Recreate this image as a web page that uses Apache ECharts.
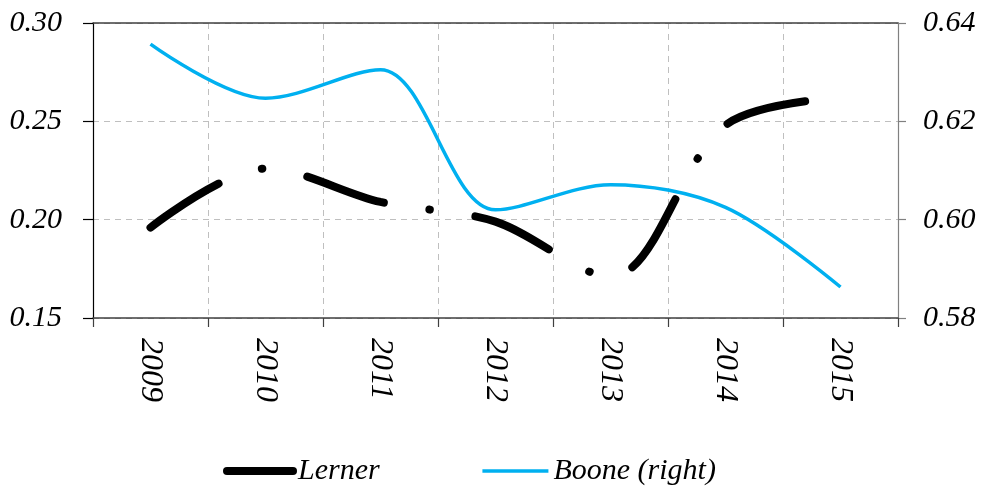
<!DOCTYPE html>
<html>
<head>
<meta charset="utf-8">
<script src="https://cdn.jsdelivr.net/npm/echarts@6/dist/echarts.min.js"></script>
<style>
html,body{margin:0;padding:0;background:#fff;}
#chart{width:985px;height:497px;}
</style>
</head>
<body>
<div id="chart"></div>
<script>
var years = ['2009','2010','2011','2012','2013','2014','2015'];
var lerner = [0.196, 0.226, 0.209, 0.199, 0.171, 0.248, 0.262];
var boone = [0.6357, 0.6247, 0.6305, 0.6020, 0.6071, 0.6025, 0.5863];
var leftTicks = {min: 0.15, max: 0.30, interval: 0.05};
var rightTicks = {min: 0.58, max: 0.64, interval: 0.02};

var FONT = 'Liberation Serif';
var chart = echarts.init(document.getElementById('chart'));
chart.setOption({
  animation: false,
  backgroundColor: '#fff',
  grid: {left: 93, right: 87, top: 23, bottom: 179, containLabel: false},
  legend: {
    left: 218, top: 451,
    itemWidth: 66, itemHeight: 10, itemGap: 101,
    textStyle: {fontFamily: FONT, fontStyle: 'italic', fontSize: 30, color: '#000'},
    data: [
      {name: 'Lerner', itemStyle: {opacity: 0}, lineStyle: {type: 'solid', width: 8, color: '#000', cap: 'round'}},
      {name: 'Boone (right)', itemStyle: {opacity: 0}, lineStyle: {type: 'solid', width: 3.5, color: '#00B0F0'}}
    ]
  },
  xAxis: [{
    type: 'category', data: years, boundaryGap: true,
    axisLine: {show: true, lineStyle: {color: '#404040', width: 1.5}},
    axisTick: {show: true, length: 9, lineStyle: {color: '#404040', width: 1.2}},
    axisLabel: {rotate: -90, margin: 20, fontFamily: FONT, fontStyle: 'italic', fontSize: 32, color: '#000'},
    splitLine: {show: true, lineStyle: {color: '#bfbfbf', type: [6, 5], width: 1}}
  }, {
    type: 'category', data: years, position: 'top', boundaryGap: true,
    axisLine: {show: true, lineStyle: {color: '#404040', width: 1.5}},
    axisTick: {show: false}, axisLabel: {show: false}, splitLine: {show: false}
  }],
  yAxis: [{
    type: 'value', position: 'left',
    min: leftTicks.min, max: leftTicks.max, interval: leftTicks.interval,
    axisLine: {show: true, lineStyle: {color: '#000', width: 1.2}},
    axisTick: {show: true, length: 10, lineStyle: {color: '#000', width: 1.2}},
    axisLabel: {margin: 31, fontFamily: FONT, fontStyle: 'italic', fontSize: 30, color: '#000',
      formatter: function (v) { return v.toFixed(2); }},
    splitLine: {show: true, lineStyle: {color: '#bfbfbf', type: [6, 5], width: 1}}
  }, {
    type: 'value', position: 'right',
    min: rightTicks.min, max: rightTicks.max, interval: rightTicks.interval,
    axisLine: {show: true, lineStyle: {color: '#808080', width: 1.2}},
    axisTick: {show: true, length: 8, lineStyle: {color: '#808080', width: 1.2}},
    axisLabel: {margin: 25, fontFamily: FONT, fontStyle: 'italic', fontSize: 30, color: '#000',
      formatter: function (v) { return v.toFixed(2); }},
    splitLine: {show: false}
  }],
  series: [{
    name: 'Lerner', type: 'line', yAxisIndex: 0, data: lerner,
    smooth: 0.33, symbol: 'none', z: 3,
    itemStyle: {color: '#000'},
    lineStyle: {color: '#000', width: 8, type: [81, 46, 0.5, 46], cap: 'round'}
  }, {
    name: 'Boone (right)', type: 'line', yAxisIndex: 1, data: boone,
    smooth: 0.33, symbol: 'none', z: 2,
    itemStyle: {color: '#00B0F0'},
    lineStyle: {color: '#00B0F0', width: 3.5, type: 'solid'}
  }]
});
</script>
</body>
</html>
